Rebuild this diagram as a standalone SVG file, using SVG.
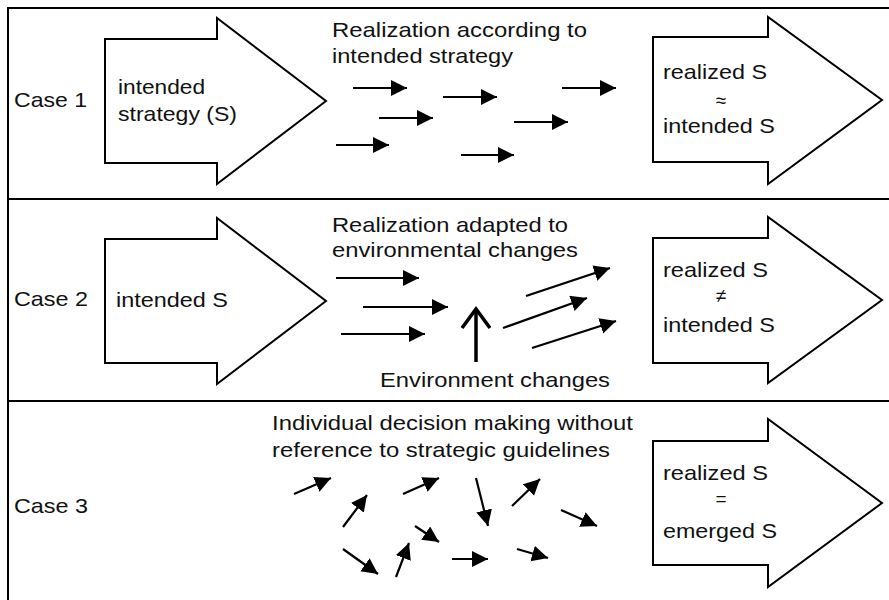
<svg xmlns="http://www.w3.org/2000/svg" width="889" height="600" viewBox="0 0 889 600">
<style>
.t{font-family:"Liberation Sans",Arial,sans-serif;font-size:21px;fill:#111}
.sym{font-family:"Liberation Sans","DejaVu Sans",sans-serif;font-size:19px;fill:#111;text-anchor:middle}
.big{fill:#fff;stroke:#000;stroke-width:2;stroke-linejoin:miter}
.frame{fill:none;stroke:#000;stroke-width:2}
.a{stroke:#000;stroke-width:2.2;fill:none;marker-end:url(#h)}
</style>
<defs>
<marker id="h" markerUnits="userSpaceOnUse" markerWidth="18" markerHeight="18" refX="16" refY="8" orient="auto">
<path d="M0,0 L16,8 L0,16 z" fill="#000"/>
</marker>
</defs>
<rect width="889" height="600" fill="#fff"/>
<g id="frame">
<path class="frame" d="M889,8 H8 V600 M8,199 H889 M8,401 H889"/>
</g>
<g id="case1">
<text class="t" x="14" y="107" textLength="73" lengthAdjust="spacingAndGlyphs">Case 1</text>
</g>
<g id="intended1">
<polygon class="big" points="105,39 217,39 217,18 326,101 217,184 217,163 105,163"/>
<text class="t" x="118" y="94" textLength="87" lengthAdjust="spacingAndGlyphs">intended</text>
<text class="t" x="118" y="121" textLength="119" lengthAdjust="spacingAndGlyphs">strategy (S)</text>
</g>
<g id="label1">
<text class="t" x="332" y="37" textLength="255" lengthAdjust="spacingAndGlyphs">Realization according to</text>
<text class="t" x="332" y="63" textLength="181" lengthAdjust="spacingAndGlyphs">intended strategy</text>
</g>
<g id="realized1">
<polygon class="big" points="653,37 768,37 768,17 882,100 768,184 768,162 653,162"/>
<text class="t" x="663" y="79" textLength="104" lengthAdjust="spacingAndGlyphs">realized S</text>
<text class="sym" x="721" y="107">≈</text>
<text class="t" x="663" y="133" textLength="112" lengthAdjust="spacingAndGlyphs">intended S</text>
</g>
<g id="case2">
<text class="t" x="14" y="306" textLength="74" lengthAdjust="spacingAndGlyphs">Case 2</text>
</g>
<g id="intended2">
<polygon class="big" points="105,239 217,239 217,218 326,301 217,384 217,363 105,363"/>
<text class="t" x="116" y="307" textLength="112" lengthAdjust="spacingAndGlyphs">intended S</text>
</g>
<g id="label2">
<text class="t" x="332" y="232" textLength="236" lengthAdjust="spacingAndGlyphs">Realization adapted to</text>
<text class="t" x="332" y="257" textLength="246" lengthAdjust="spacingAndGlyphs">environmental changes</text>
</g>
<g id="env">
<polyline points="476,362 476,310" fill="none" stroke="#000" stroke-width="3.5"/>
<polyline points="462,328 476,309 490,328" fill="none" stroke="#000" stroke-width="3.5" stroke-linejoin="miter"/>
<text class="t" x="380" y="387" textLength="230" lengthAdjust="spacingAndGlyphs">Environment changes</text>
</g>
<g id="realized2">
<polygon class="big" points="653,238 768,238 768,217 882,300 768,383 768,363 653,363"/>
<text class="t" x="663" y="277" textLength="105" lengthAdjust="spacingAndGlyphs">realized S</text>
<text class="sym" x="721" y="302">≠</text>
<text class="t" x="663" y="332" textLength="112" lengthAdjust="spacingAndGlyphs">intended S</text>
</g>
<g id="case3">
<text class="t" x="14" y="513" textLength="74" lengthAdjust="spacingAndGlyphs">Case 3</text>
</g>
<g id="label3">
<text class="t" x="272" y="430" textLength="361" lengthAdjust="spacingAndGlyphs">Individual decision making without</text>
<text class="t" x="272" y="457" textLength="338" lengthAdjust="spacingAndGlyphs">reference to strategic guidelines</text>
</g>
<g id="realized3">
<polygon class="big" points="653,441 768,441 768,419 882,503 768,587 768,565 653,565"/>
<text class="t" x="663" y="480" textLength="105" lengthAdjust="spacingAndGlyphs">realized S</text>
<text class="sym" x="721" y="505">=</text>
<text class="t" x="663" y="538" textLength="114" lengthAdjust="spacingAndGlyphs">emerged S</text>
</g>
<g id="connectors">
<line class="a" x1="353" y1="88" x2="407" y2="88"/>
<line class="a" x1="443" y1="97" x2="497" y2="97"/>
<line class="a" x1="562" y1="88" x2="616" y2="88"/>
<line class="a" x1="379" y1="118" x2="433" y2="118"/>
<line class="a" x1="514" y1="122" x2="568" y2="122"/>
<line class="a" x1="336" y1="145" x2="389" y2="145"/>
<line class="a" x1="461" y1="155" x2="514" y2="155"/>
<line class="a" x1="336" y1="278" x2="419" y2="278"/>
<line class="a" x1="363" y1="307" x2="448" y2="307"/>
<line class="a" x1="341" y1="334" x2="425" y2="334"/>
<line class="a" x1="526" y1="296" x2="610" y2="268"/>
<line class="a" x1="503" y1="328" x2="587" y2="298"/>
<line class="a" x1="532" y1="348" x2="616" y2="321"/>
<line class="a" x1="294" y1="494" x2="331" y2="478"/>
<line class="a" x1="343" y1="527" x2="367" y2="495"/>
<line class="a" x1="403" y1="494" x2="439" y2="478"/>
<line class="a" x1="476" y1="478" x2="488" y2="526"/>
<line class="a" x1="512" y1="506" x2="540" y2="479"/>
<line class="a" x1="561" y1="510" x2="597" y2="526"/>
<line class="a" x1="415" y1="526" x2="439" y2="542"/>
<line class="a" x1="343" y1="549" x2="378" y2="574"/>
<line class="a" x1="396" y1="577" x2="409" y2="543"/>
<line class="a" x1="452" y1="559" x2="488" y2="559"/>
<line class="a" x1="517" y1="549" x2="548" y2="558"/>
</g>
</svg>
